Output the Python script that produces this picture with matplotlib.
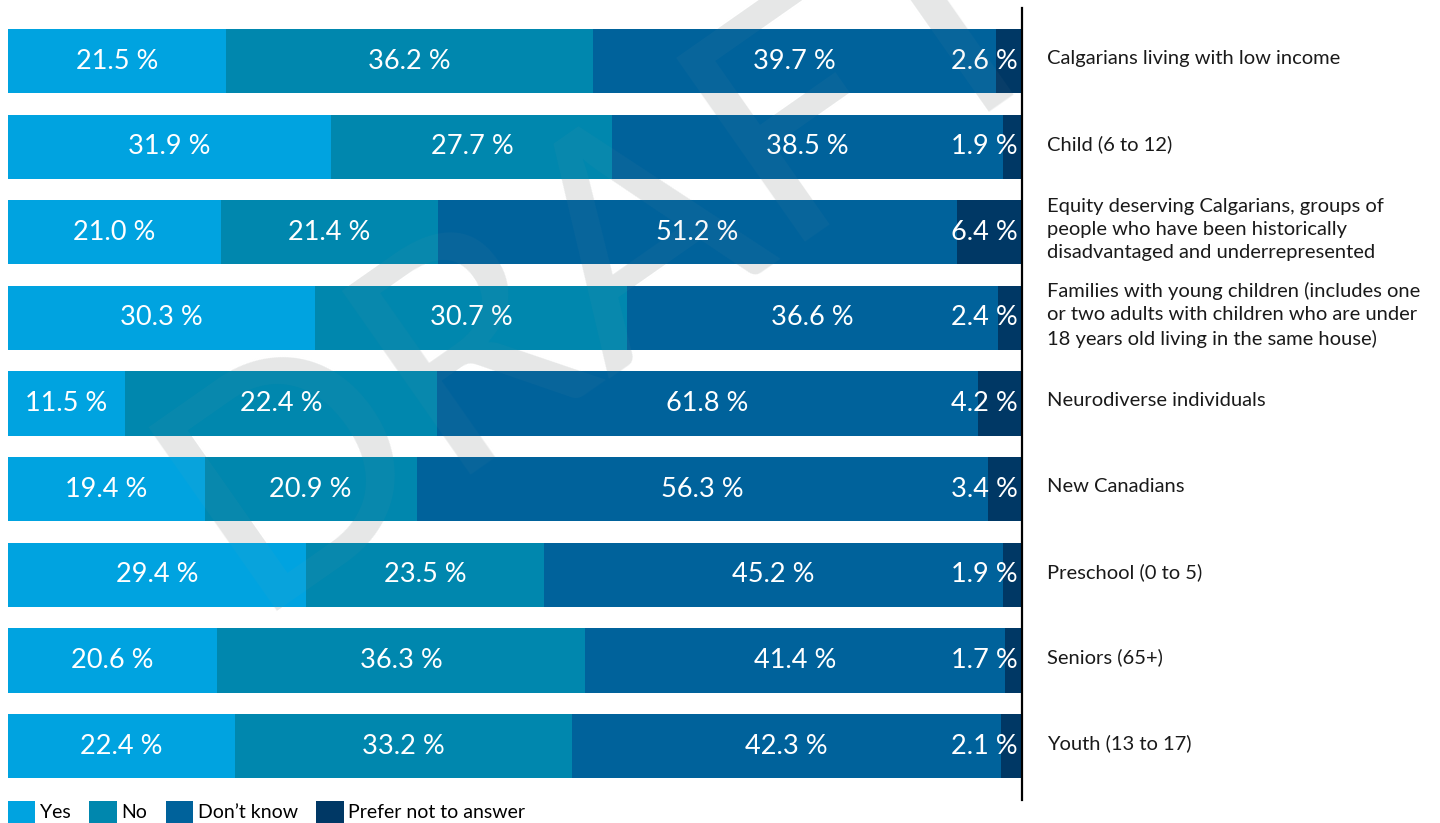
import numpy as np
import matplotlib
matplotlib.use("Agg")
import matplotlib.pyplot as plt

plt.rcParams["font.family"] = ["Lato", "DejaVu Sans"]

groups = [
    "Calgarians living with low income",
    "Child (6 to 12)",
    "Equity deserving Calgarians, groups of\npeople who have been historically\ndisadvantaged and underrepresented",
    "Families with young children (includes one\nor two adults with children who are under\n18 years old living in the same house)",
    "Neurodiverse individuals",
    "New Canadians",
    "Preschool (0 to 5)",
    "Seniors (65+)",
    "Youth (13 to 17)",
]
answers = ["Yes", "No", "Don\u2019t know", "Prefer not to answer"]

# percentages printed on the bars
yes = [21.5, 31.9, 21.0, 30.3, 11.5, 19.4, 29.4, 20.6, 22.4]
no = [36.2, 27.7, 21.4, 30.7, 22.4, 20.9, 23.5, 36.3, 33.2]
dont_know = [39.7, 38.5, 51.2, 36.6, 61.8, 56.3, 45.2, 41.4, 42.3]
prefer_not = [2.6, 1.9, 6.4, 2.4, 4.2, 3.4, 1.9, 1.7, 2.1]

# segment lengths as drawn in the source chart (Neurodiverse row is drawn
# with lengths that differ from its printed labels)
no_drawn = [36.2, 27.7, 21.4, 30.7, 30.8, 20.9, 23.5, 36.3, 33.2]
dont_know_drawn = [39.7, 38.5, 51.2, 36.6, 53.4, 56.3, 45.2, 41.4, 42.3]

colors = ["#00A3E0", "#0087AE", "#00629B", "#003865"]

W, H = 1440, 823
fig = plt.figure(figsize=(W / 100, H / 100), dpi=100)
ax = fig.add_axes([8 / W, 1 - 800 / H, (1022 - 8) / W, (800 - 8) / H])

drawn = [yes, no_drawn, dont_know_drawn, prefer_not]
shown = [yes, no, dont_know, prefer_not]
y = np.arange(len(groups))
left = np.zeros(len(groups))
for k, (vals, labs, col, name) in enumerate(zip(drawn, shown, colors, answers)):
    vals = np.array(vals)
    ax.barh(y, vals, left=left, height=0.75, color=col, label=name, zorder=2)
    for i, v in enumerate(labs):
        if k == 3:
            ax.text(99.6, y[i], f"{v:.1f} %", ha="right", va="center",
                    color="white", fontsize=19.5, zorder=3)
        else:
            ax.text(left[i] + vals[i] / 2, y[i], f"{v:.1f} %", ha="center",
                    va="center", color="white", fontsize=19.5, zorder=3)
    left += vals

ax.set_xlim(0, 100)
ax.set_ylim(8.63, -0.62)
ax.set_xticks([])
ax.set_yticks([])
for s in ["top", "bottom", "left"]:
    ax.spines[s].set_visible(False)
ax.spines["right"].set_linewidth(1.6)
ax.spines["right"].set_color("black")
ax.spines["right"].set_zorder(5)

for i, g in enumerate(groups):
    ax.annotate(g, xy=(1, y[i]), xycoords=("axes fraction", "data"),
                xytext=(25, 3), textcoords="offset pixels",
                ha="left", va="center", fontsize=14.5, linespacing=1.45,
                color="#1a1a1a")

# faint draft watermark: solid behind the bars, very light over them
wm = dict(fontsize=225, rotation=35, ha="center", va="center",
          transform=fig.transFigure, clip_on=False)
ax.text(610 / W, 1 - 250 / H, "DRAFT", color="#EBECEC", zorder=1, **wm)
ax.text(610 / W, 1 - 250 / H, "DRAFT", color="#9aa3a3", alpha=0.06,
        zorder=4, **wm)

handles, labels = ax.get_legend_handles_labels()
fig.legend(handles, labels, ncol=4, loc="lower left",
           bbox_to_anchor=(8 / W, 0.0), frameon=False, fontsize=14.0,
           handlelength=1.4, handleheight=1.4, handletextpad=0.25,
           columnspacing=0.95, borderaxespad=0.0, borderpad=0.0)

fig.savefig("out.png", dpi=100)
